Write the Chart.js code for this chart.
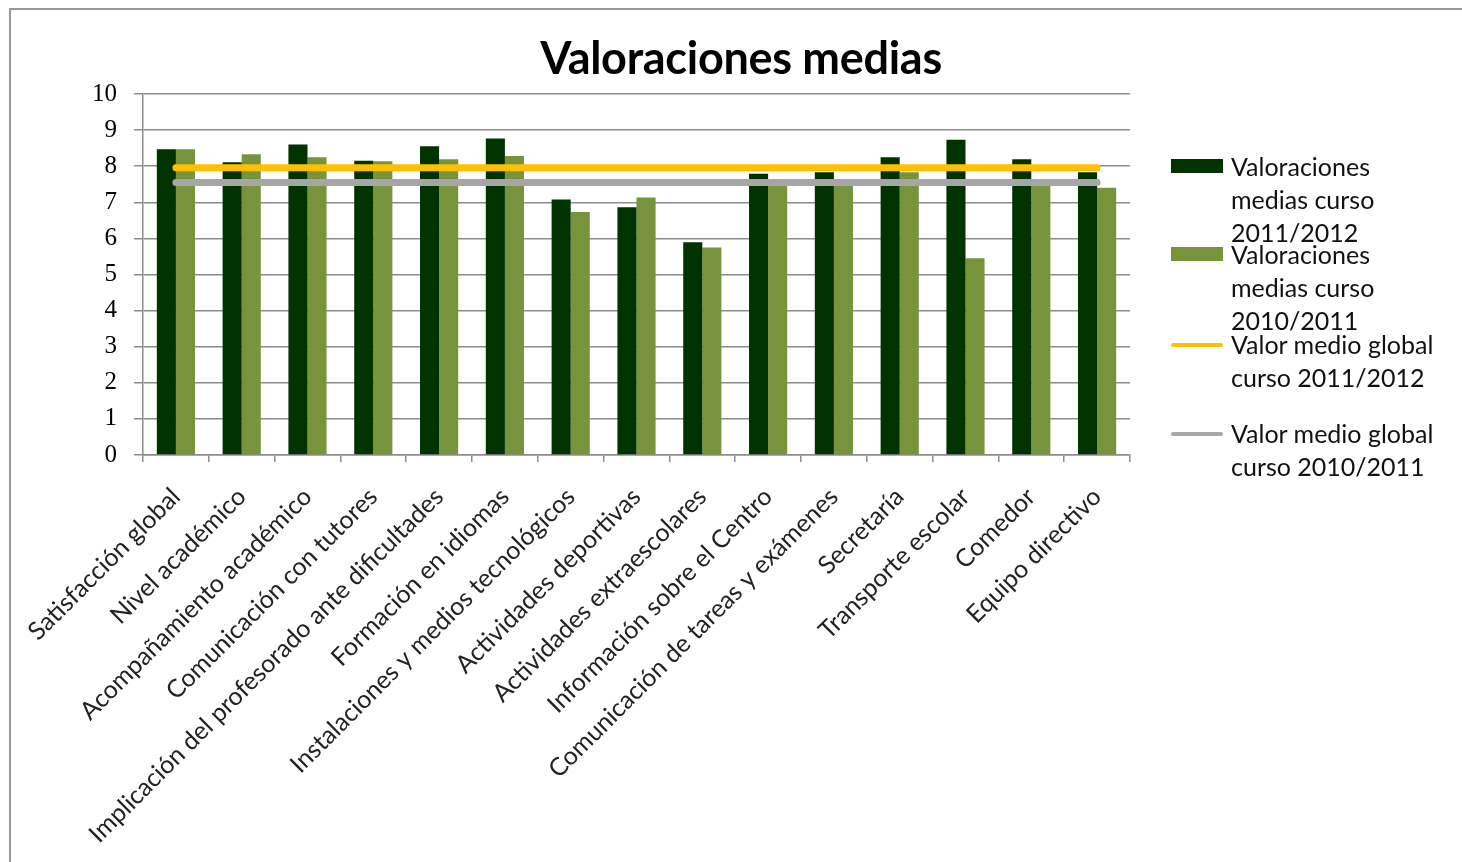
<!DOCTYPE html>
<html>
<head>
<meta charset="utf-8">
<script src="https://cdn.jsdelivr.net/npm/chart.js@4"></script>
<style>
  html, body { margin:0; padding:0; background:#fff; }
  body { width:1462px; height:862px; position:relative; overflow:hidden; }
  #frame { position:absolute; left:9px; top:8px; width:1470px; height:900px; border-top:2px solid #9a9a9a; border-left:2px solid #9a9a9a; box-sizing:border-box; }
  #wrap { position:absolute; left:0; top:0; width:1462px; height:862px; }
  #title { position:absolute; left:10px; width:1462px; top:30px; text-align:center; font:bold 45px Lato, "Open Sans", sans-serif; color:#000; letter-spacing:-0.3px; }
  .lg { position:absolute; left:1171px; font:25px Lato, "Open Sans", sans-serif; color:#111; line-height:33px; }
  .lg .sym { position:absolute; left:0; width:52px; }
  .lg .txt { position:absolute; left:60px; white-space:nowrap; }
</style>
</head>
<body>
<div id="frame"></div>
<div id="wrap"><canvas id="c" width="1462" height="862"></canvas></div>
<div id="title">Valoraciones medias</div>
<div id="legend"></div>
<script>
const categories = [
  "Satisfacción global",
  "Nivel académico",
  "Acompañamiento académico",
  "Comunicación con tutores",
  "Implicación del profesorado ante dificultades",
  "Formación en idiomas",
  "Instalaciones y medios tecnológicos",
  "Actividades deportivas",
  "Actividades extraescolares",
  "Información sobre el Centro",
  "Comunicación de tareas y exámenes",
  "Secretaría",
  "Transporte escolar",
  "Comedor",
  "Equipo directivo"
];
const curso2011_2012 = [8.47, 8.11, 8.60, 8.15, 8.55, 8.77, 7.08, 6.86, 5.89, 7.79, 7.83, 8.25, 8.73, 8.19, 7.83];
const curso2010_2011 = [8.47, 8.33, 8.25, 8.14, 8.19, 8.28, 6.73, 7.13, 5.75, 7.50, 7.55, 7.83, 5.45, 7.58, 7.40];
const mediaGlobal2011_2012 = [7.96, 7.96, 7.96, 7.96, 7.96, 7.96, 7.96, 7.96, 7.96, 7.96, 7.96, 7.96, 7.96, 7.96, 7.96];
const mediaGlobal2010_2011 = [7.55, 7.55, 7.55, 7.55, 7.55, 7.55, 7.55, 7.55, 7.55, 7.55, 7.55, 7.55, 7.55, 7.55, 7.55];
const seriesLabels = [
  ["Valoraciones", "medias curso", "2011/2012"],
  ["Valoraciones", "medias curso", "2010/2011"],
  ["Valor medio global", "curso 2011/2012"],
  ["Valor medio global", "curso 2010/2011"]
];
const yTicks = [0, 1, 2, 3, 4, 5, 6, 7, 8, 9, 10];

const colors = ["#003300", "#77933C", "#FFC000", "#A6A6A6"];
const gridColor = "#8c8c8c";

const ctx = document.getElementById('c').getContext('2d');
const chart = new Chart(ctx, {
  data: {
    labels: categories,
    datasets: [
      { type:'bar', label: seriesLabels[0].join(' '), data: curso2011_2012, backgroundColor: colors[0], order: 2,
        barPercentage: 1.0, categoryPercentage: 0.58 },
      { type:'bar', label: seriesLabels[1].join(' '), data: curso2010_2011, backgroundColor: colors[1], order: 2,
        barPercentage: 1.0, categoryPercentage: 0.58 },
      { type:'line', label: seriesLabels[2].join(' '), data: mediaGlobal2011_2012, borderColor: colors[2], backgroundColor: colors[2],
        borderWidth: 7, pointRadius: 0, borderCapStyle: 'round', order: 1, fill: false },
      { type:'line', label: seriesLabels[3].join(' '), data: mediaGlobal2010_2011, borderColor: colors[3], backgroundColor: colors[3],
        borderWidth: 7, pointRadius: 0, borderCapStyle: 'round', order: 1, fill: false }
    ]
  },
  options: {
    responsive: false,
    animation: false,
    events: [],
    layout: { padding: { top: 94, left: 10, right: 332, bottom: 5 } },
    plugins: { legend: { display: false }, title: { display: false }, tooltip: { enabled: false } },
    scales: {
      x: {
        offset: true,
        grid: { display: true, drawOnChartArea: false, drawTicks: true, tickLength: 7, offset: true, color: gridColor, lineWidth: 1.5 },
        border: { display: true, color: gridColor, width: 1.5 },
        ticks: { autoSkip: false, minRotation: 45, maxRotation: 45, padding: 20, color: '#222',
                 font: { family: 'Lato, "Open Sans", sans-serif', size: 25 } },
        afterFit: (s) => { s.height = 862 - 455 - 5; }
      },
      y: {
        min: 0, max: 10,
        afterBuildTicks: (s) => { s.ticks = yTicks.map(v => ({ value: v })); },
        grid: { color: gridColor, lineWidth: 1.5, tickLength: 9, drawTicks: true },
        border: { display: true, color: gridColor, width: 1.5 },
        ticks: { color: '#000', padding: 17, font: { family: '"Liberation Serif", "DejaVu Serif", serif', size: 25 } },
        afterFit: (s) => { s.width = 143 - 10; }
      }
    }
  }
});

// HTML legend built from the datasets
const legendTops = [150, 238, 328, 417];
const legend = document.getElementById('legend');
chart.data.datasets.forEach((ds, i) => {
  const d = document.createElement('div');
  d.className = 'lg';
  d.style.top = legendTops[i] + 'px';
  const sym = document.createElement('div');
  sym.className = 'sym';
  if (ds.type === 'bar') {
    sym.style.top = '9px'; sym.style.height = '14px'; sym.style.background = ds.backgroundColor;
  } else {
    sym.style.top = '15px'; sym.style.height = '4px'; sym.style.background = ds.borderColor; sym.style.borderRadius = '2px';
  }
  const txt = document.createElement('div');
  txt.className = 'txt';
  txt.innerHTML = seriesLabels[i].join('<br>');
  d.appendChild(sym); d.appendChild(txt);
  legend.appendChild(d);
});
</script>
</body>
</html>
